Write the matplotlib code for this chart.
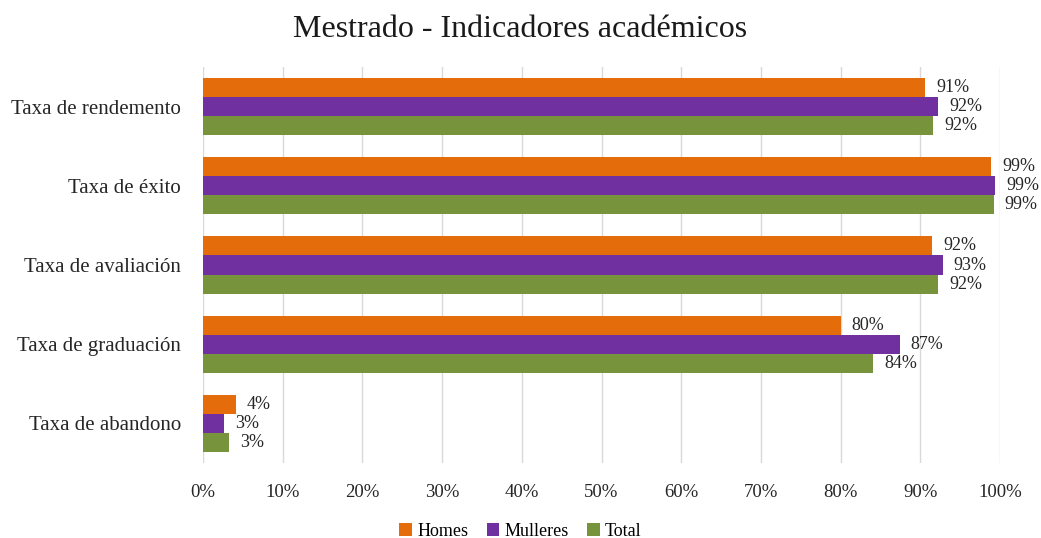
import numpy as np
import matplotlib.pyplot as plt

categorias = ['Taxa de rendemento', 'Taxa de éxito', 'Taxa de avaliación',
              'Taxa de graduación', 'Taxa de abandono']
homes = [90.6, 98.9, 91.5, 80.0, 4.1]
mulleres = [92.2, 99.4, 92.8, 87.4, 2.6]
total = [91.6, 99.2, 92.2, 84.1, 3.3]
series = ['Homes', 'Mulleres', 'Total']
cores = ['#E46C0A', '#7030A0', '#77933C']

plt.rcParams['font.family'] = ['Liberation Serif', 'DejaVu Serif']

fig = plt.figure(figsize=(10.41, 5.38), dpi=100)
ax = fig.add_axes([203/1041, 1 - 463/538, 797/1041, 396/538])

y = np.arange(len(categorias))
h = 0.24
for i, (vals, nome, cor) in enumerate(zip([homes, mulleres, total], series, cores)):
    pos = y + (i - 1) * h
    bars = ax.barh(pos, vals, height=h, color=cor, label=nome)
    for p, v in zip(pos, vals):
        ax.text(v + 1.4, p, f'{round(v):.0f}%', va='center', ha='left',
                fontsize=13, color='#262626')

ax.set_xlim(0, 100)
ax.set_ylim(len(categorias) - 0.5, -0.5)
ax.set_yticks(y)
ax.set_yticklabels(categorias, fontsize=15)
ax.set_xticks(np.arange(0, 101, 10))
ax.set_xticklabels([f'{t}%' for t in range(0, 101, 10)], fontsize=13.5)
ax.tick_params(axis='x', length=0, colors='#262626', pad=15)
ax.tick_params(axis='y', length=0, colors='#262626', pad=16)
ax.grid(axis='x', color='#D9D9D9', linewidth=1)
ax.set_axisbelow(True)
for s in ax.spines.values():
    s.set_visible(False)

fig.suptitle('Mestrado - Indicadores académicos', fontsize=23, y=0.972, color='#1a1a1a')
fig.legend(loc='lower center', ncol=3, frameon=False, fontsize=13,
           bbox_to_anchor=(0.5, -0.033), handlelength=0.7, handleheight=0.7,
           handletextpad=0.3, columnspacing=1.0)

fig.savefig('out.png', dpi=100)
